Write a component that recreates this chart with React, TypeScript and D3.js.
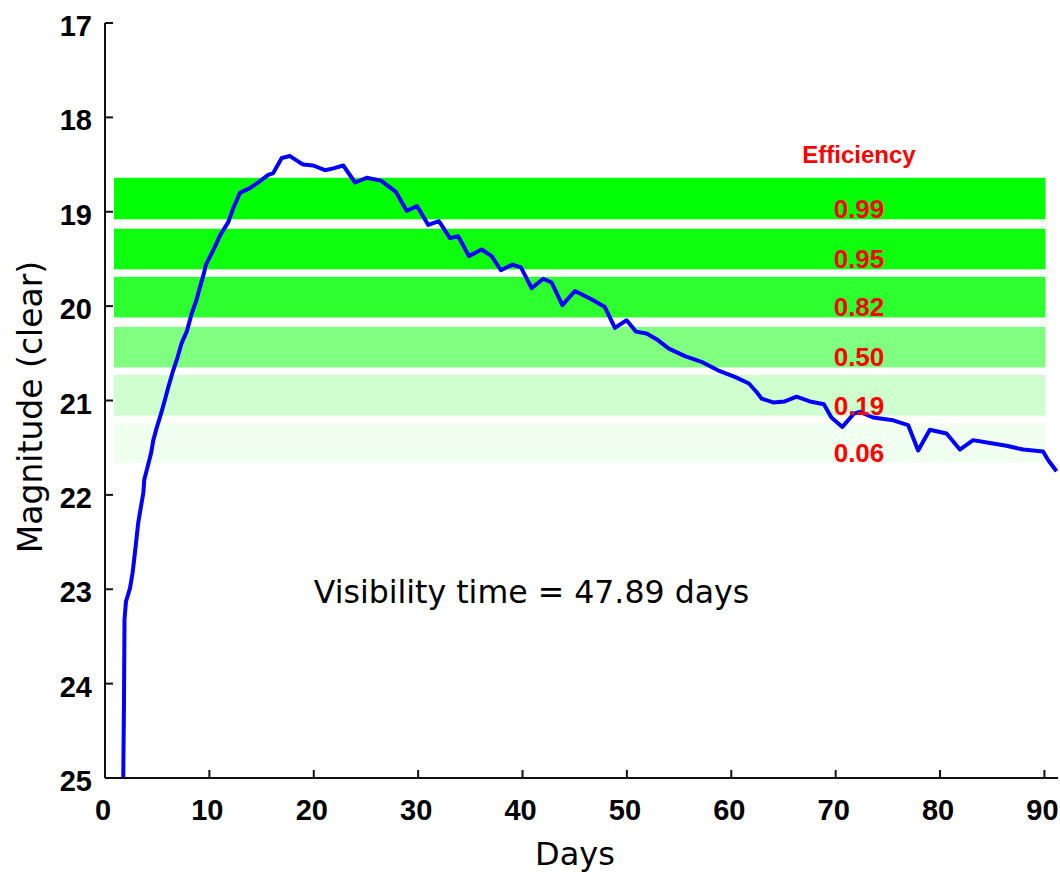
import React from "react";
import * as d3 from "d3";

// ---- data ----
const days = [1.75,1.82,1.87,2.01,2.39,2.65,2.87,3.04,3.19,3.42,
  3.67,3.76,4.09,4.41,4.63,4.95,5.34,5.75,6.06,6.48,
  6.93,7.35,7.83,8.30,8.78,8.94,9.48,9.67,10.54,11.02,
  11.81,12.29,12.93,13.89,14.78,15.64,16.12,16.93,17.72,18.68,
  18.99,19.95,21.07,21.87,22.83,23.95,25.07,26.44,27.87,28.90,
  29.89,30.97,31.99,33.05,33.84,34.87,36.08,37.04,37.93,39.03,
  39.85,40.87,41.98,42.79,43.82,45.02,46.46,47.89,48.85,49.97,
  50.86,51.89,52.84,54.02,55.56,57.14,58.72,60.34,61.69,62.42,
  62.90,64.01,65.13,66.25,67.53,68.87,69.59,70.64,71.74,72.32,
  73.59,75.51,76.94,77.90,79.02,80.62,81.90,83.17,84.77,86.37,
  87.96,89.87,90.35,91.16];
const magnitudes = [25.0,24.17,23.32,23.13,22.99,22.82,22.61,22.44,22.29,22.14,
  21.98,21.84,21.70,21.56,21.42,21.29,21.15,20.99,20.86,20.70,
  20.55,20.39,20.27,20.08,19.93,19.86,19.65,19.56,19.37,19.25,
  19.11,18.96,18.80,18.75,18.68,18.61,18.59,18.43,18.41,18.48,
  18.50,18.51,18.56,18.54,18.51,18.69,18.64,18.67,18.79,18.99,
  18.94,19.14,19.10,19.28,19.26,19.47,19.40,19.47,19.62,19.56,
  19.59,19.81,19.71,19.75,19.99,19.84,19.92,20.01,20.23,20.15,
  20.27,20.29,20.35,20.45,20.53,20.59,20.68,20.75,20.82,20.91,
  20.98,21.02,21.01,20.96,21.01,21.04,21.18,21.28,21.14,21.12,
  21.18,21.21,21.26,21.53,21.31,21.35,21.52,21.42,21.45,21.48,
  21.52,21.54,21.63,21.75];

const efficiencies = [0.99, 0.95, 0.82, 0.50, 0.19, 0.06];
const bandTop = [18.64, 19.18, 19.69, 20.22, 20.73, 21.24];
const bandBottom = [19.08, 19.61, 20.12, 20.65, 21.16, 21.66];
const bandStartDay = 0.86;
const bandEndDay = 90.1;

const xTicks = [0, 10, 20, 30, 40, 50, 60, 70, 80, 90];
const yTicks = [17, 18, 19, 20, 21, 22, 23, 24, 25];

const visibilityText = "Visibility time = 47.89 days";

export default function App() {
  const W = 1060, H = 872;
  const x = d3.scaleLinear().domain([0, 91.3]).range([105, 1058]);
  const y = d3.scaleLinear().domain([17, 25]).range([23, 778]);

  const pts: [number, number][] = days.map((d, i) => [d, magnitudes[i]]);
  const line = d3.line<[number, number]>().x(d => x(d[0])).y(d => y(d[1]));

  const boldFont = "'Liberation Sans', Arial, sans-serif";
  const regFont = "'DejaVu Sans', Verdana, sans-serif";

  return (
    <svg width={W} height={H} style={{ position: "absolute", left: 0, top: 0, background: "#fff" }}>
      {/* bands */}
      {efficiencies.map((e, i) => {
        const c = Math.round(255 * (1 - e));
        return (
          <rect key={"b" + i}
            x={x(bandStartDay)} width={x(bandEndDay) - x(bandStartDay)}
            y={y(bandTop[i])} height={y(bandBottom[i]) - y(bandTop[i])}
            fill={`rgb(${c},255,${c})`} />
        );
      })}

      {/* curve */}
      <path d={line(pts) || ""} fill="none" stroke="#0000ff" strokeWidth={4} strokeLinejoin="round" />

      {/* efficiency labels */}
      <text x={859} y={163} textAnchor="middle" fill="#ff0000" fontFamily={boldFont} fontWeight="bold" fontSize={24}>Efficiency</text>
      {efficiencies.map((e, i) => (
        <text key={"e" + i} x={859} y={y(bandBottom[i]) - 1} textAnchor="middle" fill="#ff0000"
          fontFamily={boldFont} fontWeight="bold" fontSize={26}>{e.toFixed(2)}</text>
      ))}

      {/* axes */}
      <line x1={x(0)} x2={x(0)} y1={y(17)} y2={y(25)} stroke="#111" strokeWidth={2} />
      <line x1={x(0)} x2={1058} y1={y(25)} y2={y(25)} stroke="#111" strokeWidth={2} />
      {yTicks.map(t => (
        <g key={"yt" + t}>
          <line x1={x(0)} x2={x(0) + 8} y1={y(t)} y2={y(t)} stroke="#111" strokeWidth={2} />
          <text x={92} y={y(t) + 13} textAnchor="end" fontFamily={boldFont} fontWeight="bold" fontSize={29} fill="#000">{t}</text>
        </g>
      ))}
      {xTicks.map(t => (
        <g key={"xt" + t}>
          <line x1={x(t)} x2={x(t)} y1={y(25)} y2={y(25) - 8} stroke="#111" strokeWidth={2} />
          <text x={x(t) - 2} y={820} textAnchor="middle" fontFamily={boldFont} fontWeight="bold" fontSize={29} fill="#000">{t}</text>
        </g>
      ))}

      {/* axis titles */}
      <text x={575} y={865} textAnchor="middle" fontFamily={regFont} fontSize={32} fill="#000">Days</text>
      <text transform={`translate(42,${407}) rotate(-90)`} textAnchor="middle" fontFamily={regFont} fontSize={33} fill="#000">Magnitude (clear)</text>

      {/* annotation */}
      <text x={531.5} y={603} textAnchor="middle" fontFamily={regFont} fontSize={31.6} fill="#000">{visibilityText}</text>
    </svg>
  );
}
